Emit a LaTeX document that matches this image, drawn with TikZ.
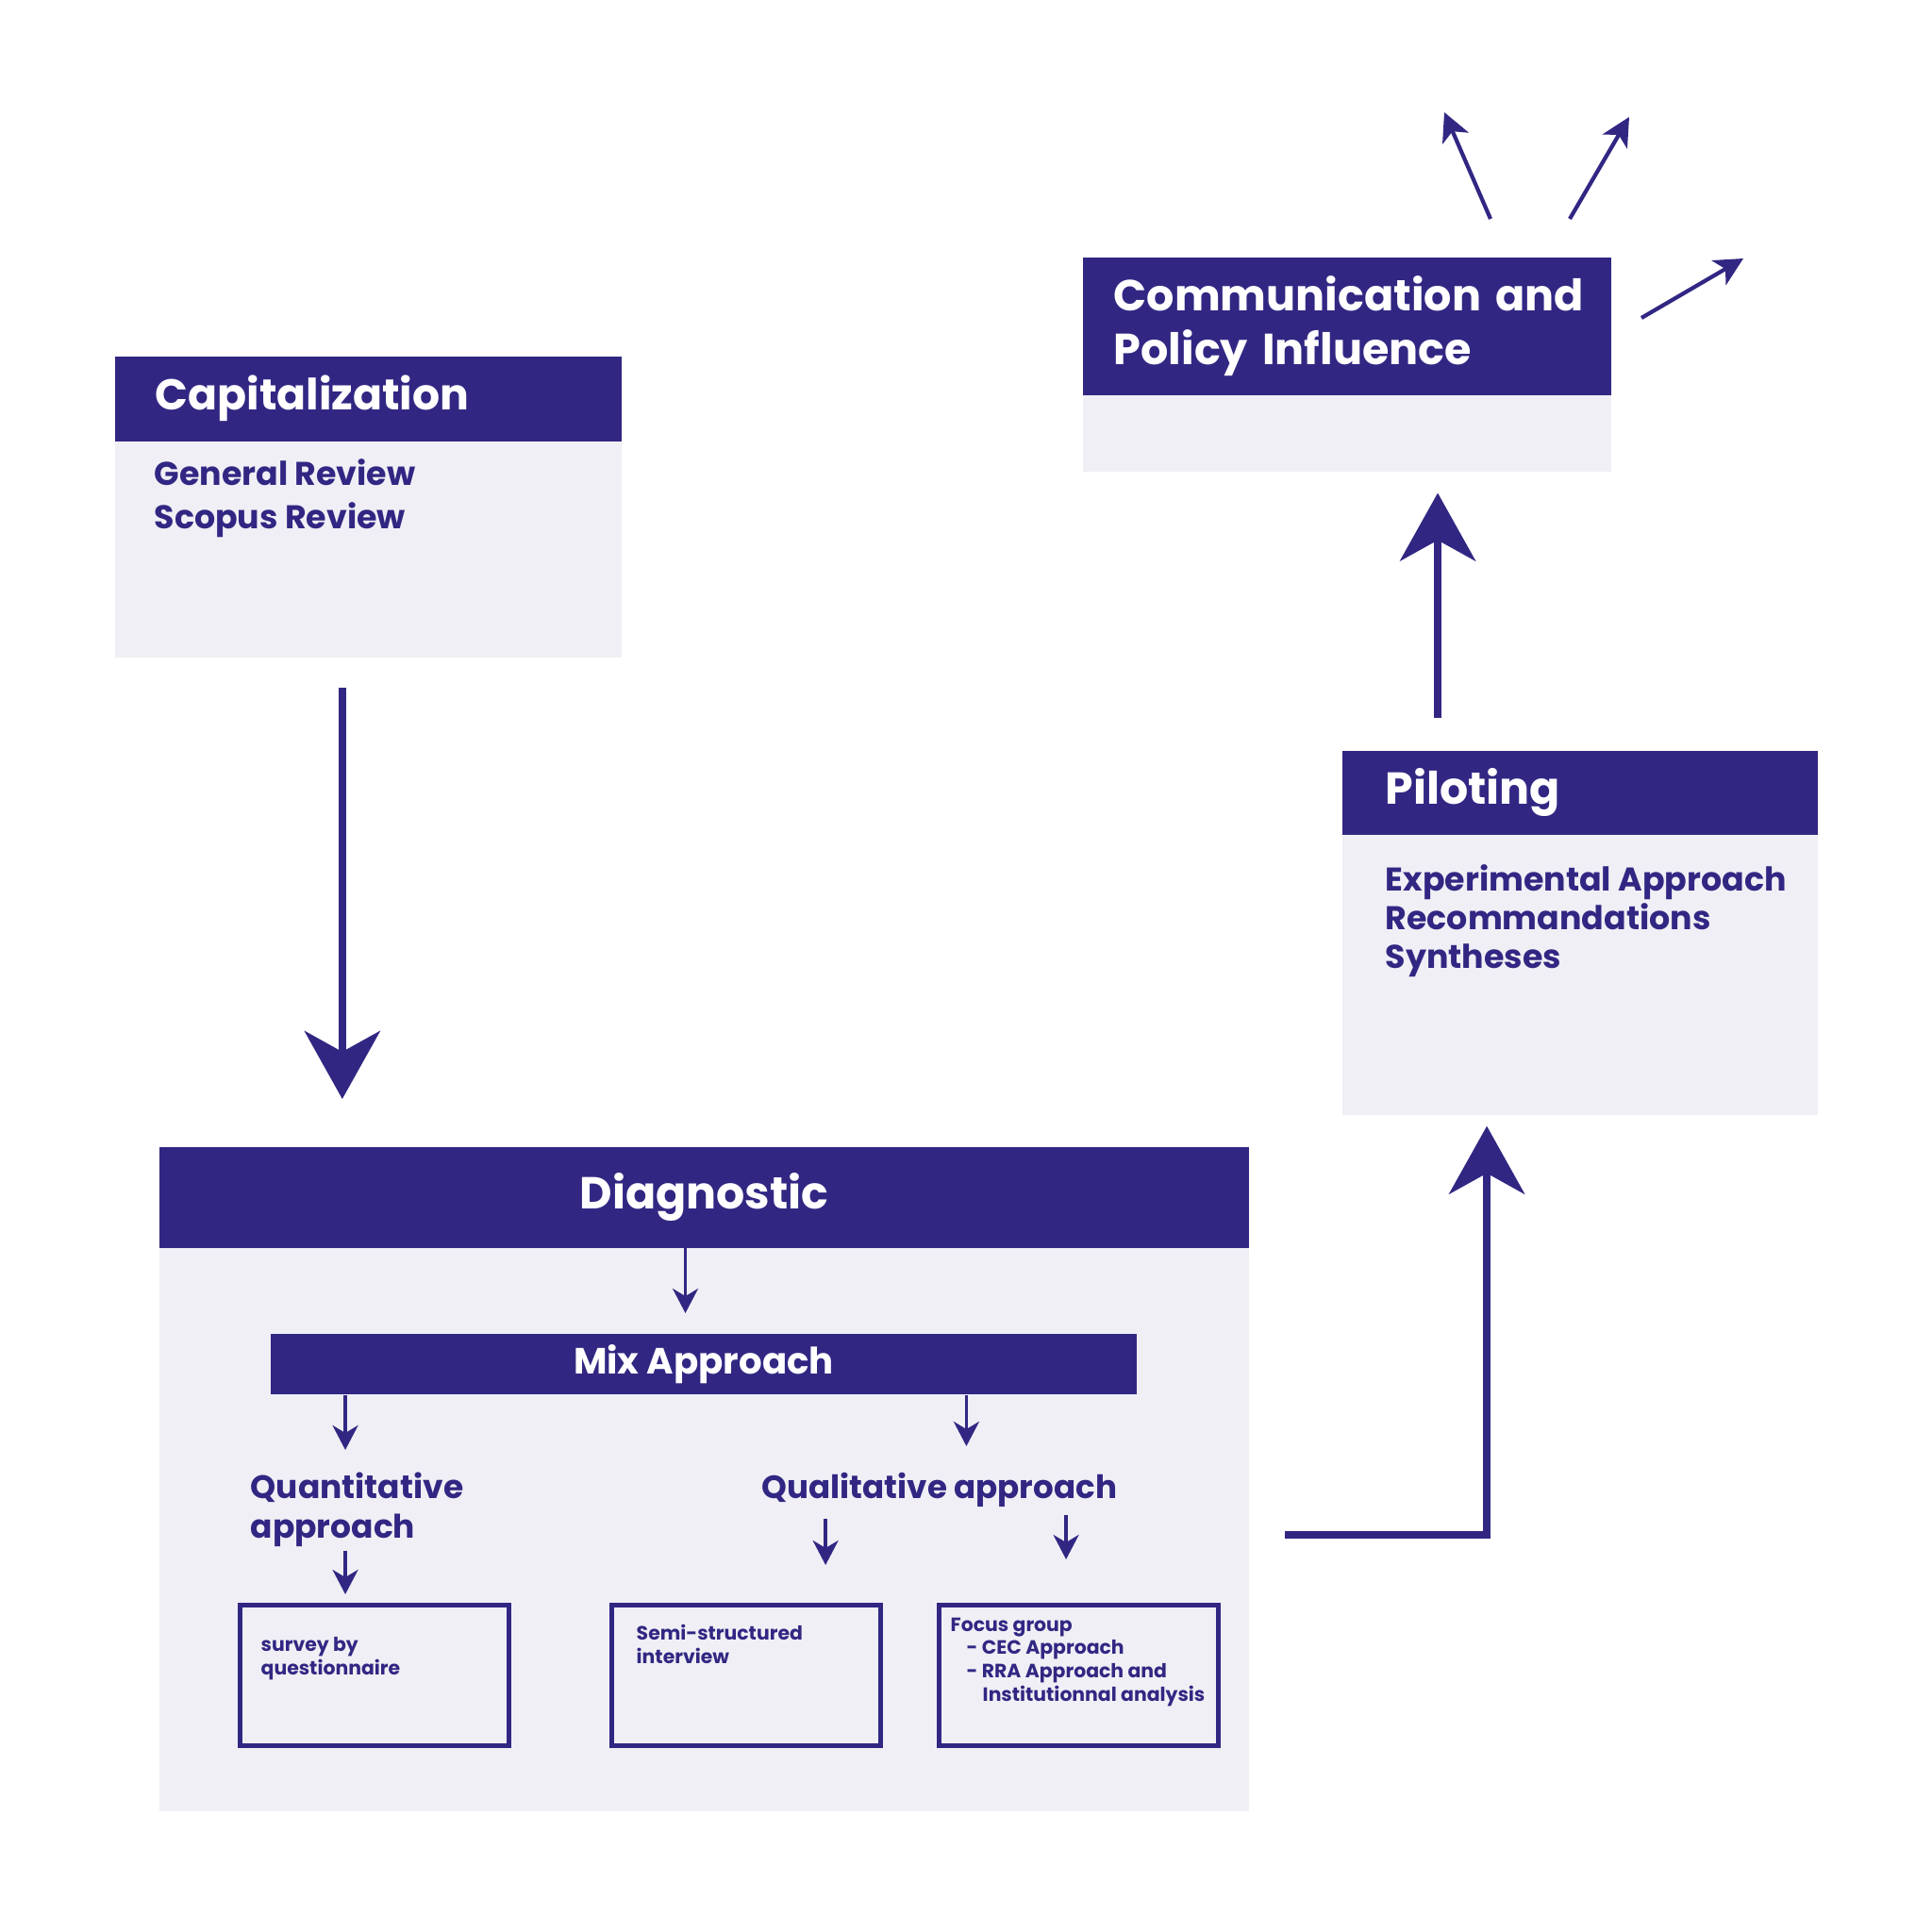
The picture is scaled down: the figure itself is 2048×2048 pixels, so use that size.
\documentclass[tikz,border=0pt]{standalone}
\usepackage{fontspec}
\setmainfont{Poppins}
\usetikzlibrary{arrows.meta}
\definecolor{navy}{HTML}{312783}
\definecolor{paleback}{HTML}{F0EFF5}
\begin{document}
\begin{tikzpicture}[x=0.01cm,y=-0.01cm]
		\tikzstyle{panel} = [rectangle,fill=paleback,anchor=north west,inner sep=0pt]
		\tikzstyle{banner} = [rectangle,fill=navy,text=white,anchor=north west,align=left]
		\tikzstyle{item} = [anchor=west,inner sep=0pt,text=navy,align=left]
		\tikzstyle{toolbox} = [rectangle,draw=navy,line width=1.4pt,anchor=north west,inner sep=0pt]
		\tikzstyle{bigarrow} = [draw=navy,line width=2.3pt,-{Stealth[length=0.72cm,width=0.80cm,inset=0.22cm]}]
		\tikzstyle{smallarrow} = [draw=navy,line width=1pt,-{Stealth[length=0.26cm,width=0.27cm,inset=0.08cm]}]
		\tikzstyle{rayarrow} = [draw=navy,line width=1.2pt,-{Stealth[length=0.30cm,width=0.30cm,inset=0.08cm]}]
		\useasboundingbox (0,0) rectangle (2048,2048);
		\node[panel,minimum width=5.37cm,minimum height=3.19cm] (capbox) at (121,377) {};
		\node[banner,minimum height=0.90cm,text width=4.51cm,inner xsep=0.43cm,font=\bfseries\fontsize{13}{16}\selectfont] (caphead) at (121,377) {Capitalization};
		\node[item,font=\bfseries\fontsize{9.9}{13.1}\selectfont] (capitems) at (163,528) {General Review\\Scopus Review};
		\node[panel,minimum width=5.60cm,minimum height=2.27cm] (commbox) at (1147,272) {};
		\node[banner,minimum height=1.46cm,text width=4.94cm,inner xsep=0.33cm,font=\bfseries\fontsize{13.1}{16}\selectfont] (commhead) at (1147,272) {Communication~and\\Policy Influence};
		\node[panel,minimum width=5.04cm,minimum height=3.86cm] (pilbox) at (1422,795) {};
		\node[banner,minimum height=0.89cm,text width=4.12cm,inner xsep=0.46cm,font=\bfseries\fontsize{13.5}{16}\selectfont] (pilhead) at (1422,795) {Piloting};
		\node[item,font=\bfseries\fontsize{9.9}{11.7}\selectfont] (pilitems) at (1468,976) {Experimental Approach\\Recommandations\\Syntheses};
		\node[panel,minimum width=11.55cm,minimum height=7.04cm] (diagbox) at (168,1215) {};
		\node[banner,minimum width=11.55cm,minimum height=1.07cm,font=\bfseries\fontsize{13.5}{16}\selectfont] (diaghead) at (168,1215) {Diagnostic};
		\node[banner,minimum width=9.18cm,minimum height=0.62cm,font=\bfseries\fontsize{11}{13}\selectfont] (mix) at (286,1413) {Mix Approach};
		\node[item,font=\bfseries\fontsize{9.8}{11.9}\selectfont] (quant) at (265,1600) {Quantitative\\approach};
		\node[item,font=\bfseries\fontsize{9.7}{12}\selectfont] (qual) at (807,1579) {Qualitative approach};
		\node[toolbox,minimum width=2.85cm,minimum height=1.49cm] (survey) at (252,1699) {};
		\node[toolbox,minimum width=2.85cm,minimum height=1.49cm] (semi) at (646,1699) {};
		\node[toolbox,minimum width=2.96cm,minimum height=1.49cm] (focus) at (993,1699) {};
		\node[item,font=\bfseries\fontsize{5.8}{7.1}\selectfont] (surveytext) at (276,1758) {survey by\\questionnaire};
		\node[item,font=\bfseries\fontsize{5.8}{7.1}\selectfont] (semitext) at (674,1743) {Semi-structured\\interview};
		\node[item,font=\bfseries\fontsize{5.8}{7.1}\selectfont] (focustext) at (1007,1762) {Focus group\\\hspace*{0.17cm}- CEC Approach\\\hspace*{0.17cm}- RRA Approach and\\\hspace*{0.34cm}Institutionnal analysis};
		\coordinate (capdown) at ([xshift=-0.275cm]capbox.south);
		\coordinate (pilup) at ([xshift=1.02cm]pilhead.north west);
		\coordinate (diagout) at ([yshift=-4.12cm]diagbox.north east);
		\coordinate (pilin) at ([xshift=1.54cm]pilbox.south west);
		\draw[bigarrow,shorten <=0.31cm,shorten >=0.50cm] (capdown) -- (capdown |- diaghead.north);
		\draw[bigarrow,shorten <=0.34cm,shorten >=0.22cm] (pilup) -- (pilup |- commbox.south);
		\draw[bigarrow,shorten <=0.37cm,shorten >=0.11cm] (diagout) -| (pilin);
		\coordinate (diagmid) at ([xshift=-0.2cm]diaghead.south);
		\coordinate (quantin) at ([xshift=0.80cm]mix.south west);
		\coordinate (qualin) at ([xshift=7.38cm]mix.south west);
		\coordinate (semiin) at ([xshift=2.29cm]semi.north west);
		\coordinate (focusin) at ([xshift=1.37cm]focus.north west);
		\draw[smallarrow,shorten >=0.21cm] (diagmid) -- (diagmid |- mix.north);
		\draw[smallarrow,shorten >=0.23cm] (quantin) -- (quantin |- quant.north);
		\draw[smallarrow,shorten >=0.27cm] (qualin) -- (qualin |- quant.north);
		\draw[smallarrow,shorten <=0.04cm,shorten >=0.09cm] (quantin |- quant.south) -- (quantin |- survey.north);
		\draw[smallarrow,shorten <=0.12cm,shorten >=0.40cm] (semiin |- qual.south) -- (semiin);
		\draw[smallarrow,shorten <=0.08cm,shorten >=0.46cm] (focusin |- qual.south) -- (focusin);
		\coordinate (rayafrom) at (1580,232);
		\coordinate (rayato) at (1531,119);
		\coordinate (raybfrom) at (1664,232);
		\coordinate (raybto) at (1727,124);
		\coordinate (raycfrom) at (1740,337);
		\coordinate (raycto) at (1848,274);
		\draw[rayarrow] (rayafrom) -- (rayato);
		\draw[rayarrow] (raybfrom) -- (raybto);
		\draw[rayarrow] (raycfrom) -- (raycto);
	\end{tikzpicture}
\end{document}
